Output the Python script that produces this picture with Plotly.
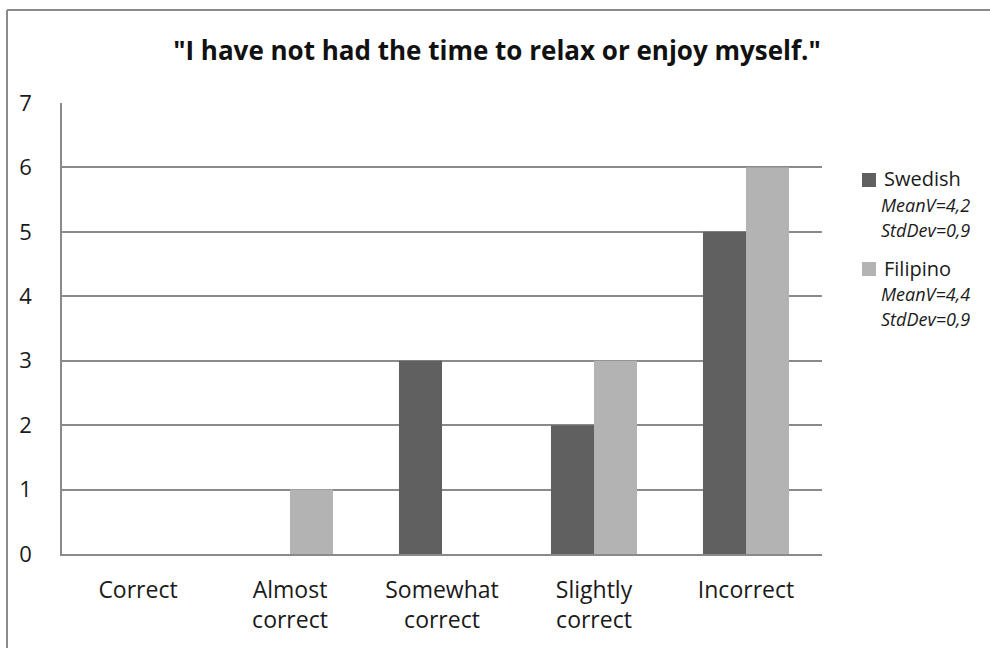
import plotly.graph_objects as go

categories = ["Correct", "Almost<br>correct", "Somewhat<br>correct", "Slightly<br>correct", "Incorrect"]
series_names = ["Swedish", "Filipino"]
swedish = [0, 0, 3, 2, 5]
filipino = [0, 1, 0, 3, 6]
series_stats = [["MeanV=4,2", "StdDev=0,9"], ["MeanV=4,4", "StdDev=0,9"]]
title_text = '"I have not had the time to relax or enjoy myself."'

FONT = "Open Sans, DejaVu Sans, sans-serif"
GRID = "#8a8a8a"
COLORS = ["#606060", "#b3b3b3"]

PLOT_L, PLOT_T, PLOT_W, PLOT_H = 62, 103, 760, 451


def px_x(x):
    return (x - PLOT_L) / PLOT_W


def px_y(y):
    return (PLOT_T + PLOT_H - y) / PLOT_H


fig = go.Figure()
for name, vals, col in zip(series_names, [swedish, filipino], COLORS):
    fig.add_trace(go.Bar(x=categories, y=vals, name=name,
                         marker=dict(color=col, line=dict(width=0))))

# outer frame (top and left edges)
fig.add_shape(type="line", xref="paper", yref="paper",
              x0=px_x(7), x1=px_x(1000), y0=px_y(10), y1=px_y(10),
              line=dict(color="#8c8c8c", width=2))
fig.add_shape(type="line", xref="paper", yref="paper",
              x0=px_x(7), x1=px_x(7), y0=px_y(700), y1=px_y(10),
              line=dict(color="#8c8c8c", width=2))

# legend block: swatch, series name, and italic summary lines
legend_top = [179, 268]
for name, stats, col, top in zip(series_names, series_stats, COLORS, legend_top):
    fig.add_shape(type="rect", xref="paper", yref="paper",
                  x0=px_x(862), x1=px_x(876), y0=px_y(top + 8), y1=px_y(top - 6),
                  fillcolor=col, line=dict(width=0))
    fig.add_annotation(xref="paper", yref="paper", x=px_x(882), y=px_y(top),
                       xanchor="left", yanchor="middle", showarrow=False,
                       text=name, font=dict(family=FONT, size=20, color="#1a1a1a"))
    for i, s in enumerate(stats):
        fig.add_annotation(xref="paper", yref="paper", x=px_x(879),
                           y=px_y(top + 25.5 * (i + 1)),
                           xanchor="left", yanchor="middle", showarrow=False,
                           text=f"<i>{s}</i>",
                           font=dict(family=FONT, size=18, color="#1a1a1a"))

fig.update_layout(
    width=990, height=648,
    margin=dict(l=PLOT_L, r=990 - PLOT_L - PLOT_W, t=PLOT_T, b=648 - PLOT_T - PLOT_H),
    paper_bgcolor="white", plot_bgcolor="white",
    font=dict(family=FONT, size=22, color="#1a1a1a"),
    title=dict(text=f"<b>{title_text}</b>", x=0.502, xanchor="center",
               y=0.922, yanchor="middle",
               font=dict(family=FONT, size=26, color="#111111")),
    barmode="group", bargap=0.434, bargroupgap=0,
    showlegend=False,
    xaxis=dict(showline=True, linecolor=GRID, linewidth=1.5,
               ticks="", showgrid=False, ticklabelstandoff=15,
               tickfont=dict(size=23)),
    yaxis=dict(range=[0, 7], dtick=1, showline=True, linecolor=GRID,
               linewidth=1.5, gridcolor=GRID, gridwidth=1.5,
               zeroline=False, ticks="", ticklabelstandoff=24,
               tickfont=dict(size=22)),
)

fig.write_html("out.html")
